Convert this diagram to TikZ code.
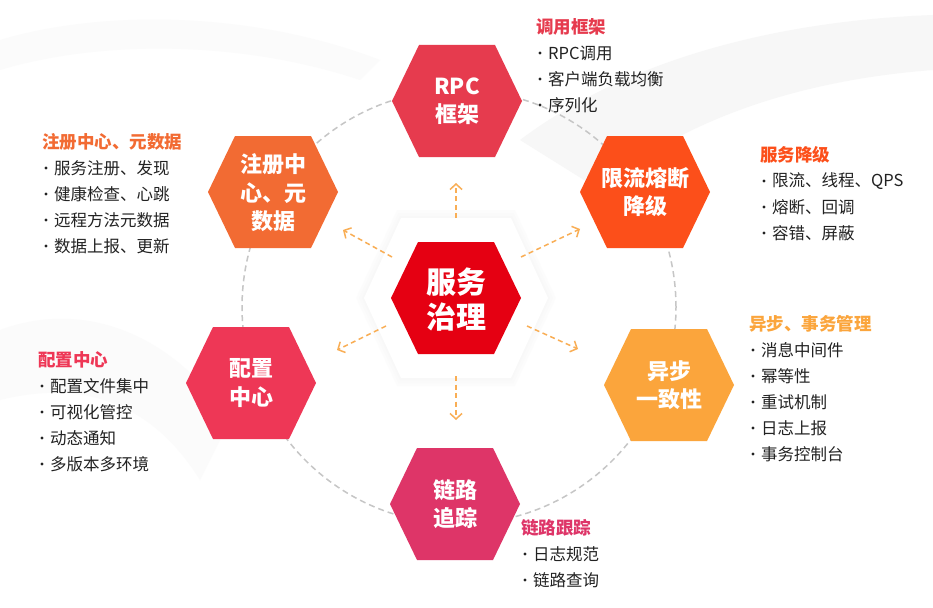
\documentclass[tikz,border=0pt]{standalone}
\usepackage{fontspec}
\setmainfont{Noto Sans CJK SC}
\usetikzlibrary{arrows.meta, calc, positioning}

\definecolor{rpcred}{HTML}{E63B4E}
\definecolor{regorange}{HTML}{F26B33}
\definecolor{limitorange}{HTML}{FC4F1A}
\definecolor{corered}{HTML}{E50012}
\definecolor{cfgred}{HTML}{EE3756}
\definecolor{asyncorange}{HTML}{FBA53C}
\definecolor{tracepink}{HTML}{DE3568}
\definecolor{arroworange}{HTML}{F9AE55}
\definecolor{itemgray}{HTML}{222222}

\tikzset{
  hextext/.style={text=white, font=\fontsize{22}{28.5}\selectfont\bfseries, align=center, inner sep=0pt},
  coretext/.style={text=white, font=\fontsize{30}{35}\selectfont\bfseries, align=center, inner sep=0pt},
  infotitle/.style={anchor=west, inner sep=0pt, font=\fontsize{17.5}{20}\selectfont\bfseries},
  infoitem/.style={anchor=west, inner sep=0pt, text=itemgray, font=\fontsize{16.5}{20}\selectfont},
  flowarrow/.style={arroworange, line width=1.5pt, dash pattern=on 5pt off 3.5pt,
    -{Straight Barb[length=5.5pt, width=12pt]}},
  ring/.style={gray!45, line width=1.5pt, dash pattern=on 6pt off 4pt}
}

% hexagon with pointy left and right ends
\newcommand{\hexfill}[3]{%
  \fill[#3] ({#1-65},{#2}) -- ({#1-38},{#2-56}) -- ({#1+38},{#2-56}) -- ({#1+65},{#2})
    -- ({#1+38},{#2+56}) -- ({#1-38},{#2+56}) -- cycle;}

% title plus bullet list
\newcommand{\infoblock}[6]{%
  \node[infotitle, text=#4] (#1) at (#2,#3) {#5};
  \foreach \txt [count=\i] in {#6}{
    \fill[itemgray] ({#2+4},{#3+26*\i}) circle (1.7pt);
    \node[infoitem] (#1-\i) at ({#2+12},{#3+26*\i}) {\txt};
  }}

\begin{document}
\begin{tikzpicture}[x=1pt, y=-1pt]
  \useasboundingbox (0,0) rectangle (933,607);
  \fill[white] (0,0) rectangle (933,607);

  % faint background swooshes
  \fill[gray!6] (520,140) .. controls (640,50) and (800,20) .. (933,15) -- (933,70)
    .. controls (800,80) and (680,120) .. (600,190) -- cycle;
  \fill[gray!3] (0,330) .. controls (80,300) and (170,330) .. (230,420) -- (200,480)
    .. controls (150,400) and (80,380) .. (0,400) -- cycle;
  \fill[gray!3] (0,40) .. controls (100,10) and (250,10) .. (380,60) -- (360,80)
    .. controls (240,40) and (100,40) .. (0,70) -- cycle;

  % dashed ring
  \draw[ring] (459,307) circle[radius=217pt];

  % white backing of the core
  \foreach \g in {8,5,2}{
    \fill[gray!20, opacity=0.08] ({456-92-\g},298) -- ({456-55-\g/2},{298-80-\g}) -- ({456+55+\g/2},{298-80-\g})
      -- ({456+92+\g},298) -- ({456+55+\g/2},{298+80+\g}) -- ({456-55-\g/2},{298+80+\g}) -- cycle;
  }
  \fill[white] (364,298) -- (401,218) -- (511,218) -- (548,298) -- (511,378) -- (401,378) -- cycle;

  % hexagons
  \hexfill{457}{101}{rpcred}
  \hexfill{273}{192}{regorange}
  \hexfill{645}{192}{limitorange}
  \hexfill{251}{383}{cfgred}
  \hexfill{669}{385}{asyncorange}
  \hexfill{455}{504}{tracepink}
  \hexfill{456}{298}{corered}

  \node[hextext] (rpc) at (457,101) {RPC\\框架};
  \node[hextext] (reg) at (273,193) {注册中\\心、元\\数据};
  \node[hextext] (limit) at (645,192) {限流熔断\\降级};
  \node[hextext] (cfg) at (251,383) {配置\\中心};
  \node[hextext] (async) at (669,385) {异步\\一致性};
  \node[hextext] (trace) at (455,504) {链路\\追踪};
  \node[coretext] (core) at (456,300) {服务\\治理};

  % dashed arrows out of the core
  \coordinate (upS) at (456,218);    \coordinate (upE) at (456,183);
  \coordinate (ulS) at (392,257);    \coordinate (ulE) at (343,230);
  \coordinate (urS) at (521,257);    \coordinate (urE) at (580,229);
  \coordinate (llS) at (386,326);    \coordinate (llE) at (337,350);
  \coordinate (lrS) at (527,326);    \coordinate (lrE) at (578,349);
  \coordinate (dnS) at (456,376);    \coordinate (dnE) at (456,420);
  \draw[flowarrow] (upS) -- (upE);
  \draw[flowarrow] (ulS) -- (ulE);
  \draw[flowarrow] (urS) -- (urE);
  \draw[flowarrow] (llS) -- (llE);
  \draw[flowarrow] (lrS) -- (lrE);
  \draw[flowarrow] (dnS) -- (dnE);

  % side lists
  \infoblock{rpcinfo}{536}{27}{rpcred}{调用框架}{RPC调用, 客户端负载均衡, 序列化}
  \infoblock{reginfo}{42}{142}{regorange}{注册中心、元数据}{服务注册、发现, 健康检查、心跳, 远程方法元数据, 数据上报、更新}
  \infoblock{limitinfo}{760}{155}{limitorange}{服务降级}{限流、线程、QPS, 熔断、回调, 容错、屏蔽}
  \infoblock{asyncinfo}{749}{324}{asyncorange}{异步、事务管理}{消息中间件, 幂等性, 重试机制, 日志上报, 事务控制台}
  \infoblock{cfginfo}{38}{360}{cfgred}{配置中心}{配置文件集中, 可视化管控, 动态通知, 多版本多环境}
  \infoblock{traceinfo}{521}{528}{tracepink}{链路跟踪}{日志规范, 链路查询}
\end{tikzpicture}
\end{document}
